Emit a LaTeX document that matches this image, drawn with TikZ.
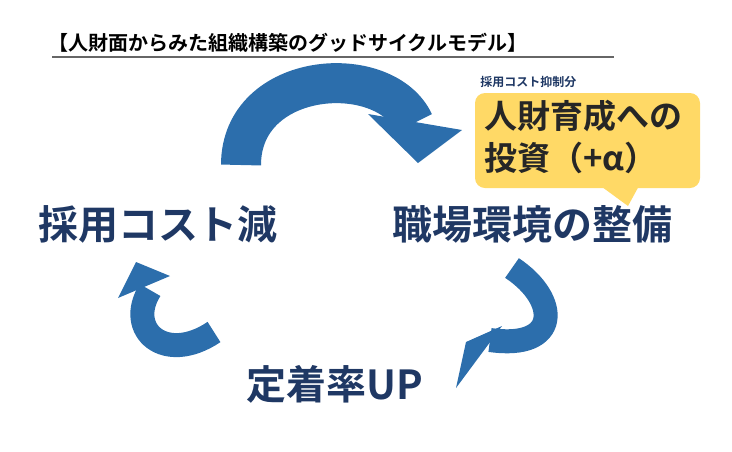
\documentclass[tikz,border=0pt]{standalone}
\usepackage{fontspec}
\newfontfamily\cjk{Noto Sans CJK JP Bold}
\definecolor{navy}{HTML}{1F3864}
\definecolor{cyc}{HTML}{2C6EAC}
\definecolor{memo}{HTML}{FFD966}
\tikzset{every picture/.style={line width=0.75pt},
  big/.style={font=\cjk\fontsize{40}{40}\selectfont,text=navy,inner sep=0pt},
  cycarrow/.style={draw=cyc,line width=#1}}
\begin{document}
\begin{tikzpicture}[x=1pt,y=-1pt]
\useasboundingbox (0,0) rectangle (732,451);

% Title
\node (title) [anchor=west,inner sep=0pt,font=\cjk\fontsize{20}{20}\selectfont] at (48,43) {【人財面からみた組織構築のグッドサイクルモデル】};
\draw [color=gray!80!black,line width=1.5pt] (52,57) -- (614,57);

% Callout
\node (note) [anchor=west,inner sep=0pt,font=\cjk\fontsize{12}{12}\selectfont,text=navy] at (480,82) {採用コスト抑制分};
\fill [memo] (598,184) -- (640,184) -- (628,206) -- cycle;
\fill [memo,rounded corners=10pt] (475,93) rectangle (700,188);
\node (invest) [anchor=north west,align=left,inner sep=0pt,font=\cjk\fontsize{33}{42}\selectfont,text=black!85] at (484,100) {人財育成への\\投資（+α）};

% Stages
\node (cost) [big] at (158,224) {採用コスト減};
\node (work) [big] at (532,224) {職場環境の整備};
\node (stay) [big] at (335,384) {定着率UP};

% Arrows
\draw [cycarrow=40pt] (241,165) .. controls (241,70) and (385,60) .. (414,123);
\fill [cyc] (368,114) -- (462,130) -- (418,163) -- cycle;
\draw [cycarrow=24pt] (512,268) .. controls (560,300) and (560,350) .. (490,340);
\fill [cyc] (502,326) -- (466,342) -- (456,388) -- cycle;
\draw [cycarrow=24pt] (214,332) .. controls (165,365) and (125,330) .. (150,290);
\fill [cyc] (170,276) -- (118,298) -- (136,262) -- cycle;

\end{tikzpicture}
\end{document}
